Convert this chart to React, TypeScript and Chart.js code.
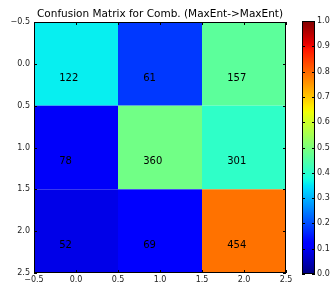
import React, { useEffect, useRef } from "react";
import { Chart, registerables } from "chart.js";

Chart.register(...registerables);

const TITLE = "Confusion Matrix for Comb. (MaxEnt->MaxEnt)";
const classes = [0, 1, 2];
const row0 = [122, 61, 157];
const row1 = [78, 360, 301];
const row2 = [52, 69, 454];
const matrix = [row0, row1, row2];
const axisMin = -0.5;
const axisMax = 2.5;
const axisStep = 0.5;
const cbMin = 0;
const cbMax = 1;
const cbStep = 0.1;

const FONT = "'DejaVu Sans', sans-serif";

const segR = [[0, 0], [0.35, 0], [0.66, 1], [0.89, 1], [1, 0.5]];
const segG = [[0, 0], [0.125, 0], [0.375, 1], [0.64, 1], [0.91, 0], [1, 0]];
const segB = [[0, 0.5], [0.11, 1], [0.34, 1], [0.65, 0], [1, 0]];
function interp(seg: number[][], x: number) {
  if (x <= seg[0][0]) return seg[0][1];
  for (let k = 1; k < seg.length; k++) {
    if (x <= seg[k][0]) {
      const [x0, y0] = seg[k - 1];
      const [x1, y1] = seg[k];
      return y0 + ((x - x0) / (x1 - x0)) * (y1 - y0);
    }
  }
  return seg[seg.length - 1][1];
}
function jet(v: number) {
  const r = Math.round(interp(segR, v) * 255);
  const g = Math.round(interp(segG, v) * 255);
  const b = Math.round(interp(segB, v) * 255);
  return `rgb(${r},${g},${b})`;
}
const fmt = (v: number) => {
  const s = Number(v).toFixed(1);
  return s.startsWith("-") ? "\u2212" + s.slice(1) : s;
};

const heatPlugin = {
  id: "heat",
  beforeDatasetsDraw(chart: any) {
    const { ctx, scales } = chart;
    const x = scales.x;
    const y = scales.y;
    ctx.save();
    matrix.forEach((row, i) => {
      const sum = row.reduce((a, b) => a + b, 0);
      row.forEach((val, j) => {
        const x0 = x.getPixelForValue(classes[j] - 0.5);
        const x1 = x.getPixelForValue(classes[j] + 0.5);
        const y0 = y.getPixelForValue(classes[i] - 0.5);
        const y1 = y.getPixelForValue(classes[i] + 0.5);
        ctx.fillStyle = jet(val / sum);
        ctx.fillRect(Math.min(x0, x1), Math.min(y0, y1), Math.abs(x1 - x0), Math.abs(y1 - y0));
      });
    });
    ctx.fillStyle = "#000";
    ctx.font = `10px ${FONT}`;
    ctx.textAlign = "left";
    ctx.textBaseline = "alphabetic";
    matrix.forEach((row, i) => {
      row.forEach((val, j) => {
        ctx.fillText(String(val), x.getPixelForValue(classes[j] - 0.2), y.getPixelForValue(classes[i] + 0.2));
      });
    });
    ctx.restore();
  },
  afterDraw(chart: any) {
    const { ctx, chartArea: a, scales } = chart;
    ctx.save();
    ctx.strokeStyle = "#000";
    ctx.lineWidth = 1;
    ctx.beginPath();
    scales.x.ticks.forEach((t: any) => {
      const px = Math.round(scales.x.getPixelForValue(t.value)) + 0.5;
      ctx.moveTo(px, a.bottom);
      ctx.lineTo(px, a.bottom - 3);
      ctx.moveTo(px, a.top);
      ctx.lineTo(px, a.top + 3);
    });
    scales.y.ticks.forEach((t: any) => {
      const py = Math.round(scales.y.getPixelForValue(t.value)) + 0.5;
      ctx.moveTo(a.left, py);
      ctx.lineTo(a.left + 3, py);
      ctx.moveTo(a.right, py);
      ctx.lineTo(a.right - 3, py);
    });
    ctx.stroke();
    ctx.strokeRect(Math.round(a.left) + 0.5, Math.round(a.top) + 0.5, Math.round(a.right - a.left) - 1, Math.round(a.bottom - a.top) - 1);
    ctx.fillStyle = "#000";
    ctx.font = `10.5px ${FONT}`;
    ctx.textAlign = "center";
    ctx.textBaseline = "middle";
    ctx.fillText(TITLE, (a.left + a.right) / 2, 14);
    ctx.restore();
  },
};

const cbPlugin = {
  id: "cb",
  beforeDatasetsDraw(chart: any) {
    const { ctx, chartArea: a, scales } = chart;
    const y = scales.y;
    const g = ctx.createLinearGradient(0, y.getPixelForValue(cbMin), 0, y.getPixelForValue(cbMax));
    for (let k = 0; k <= 100; k++) g.addColorStop(k / 100, jet(k / 100));
    ctx.save();
    ctx.fillStyle = g;
    ctx.fillRect(a.left, a.top, a.right - a.left, a.bottom - a.top);
    ctx.restore();
  },
  afterDraw(chart: any) {
    const { ctx, chartArea: a, scales } = chart;
    ctx.save();
    ctx.strokeStyle = "#000";
    ctx.lineWidth = 1;
    ctx.beginPath();
    scales.y.ticks.forEach((t: any) => {
      const py = Math.round(scales.y.getPixelForValue(t.value)) + 0.5;
      ctx.moveTo(a.left, py);
      ctx.lineTo(a.left + 3, py);
      ctx.moveTo(a.right, py);
      ctx.lineTo(a.right - 3, py);
    });
    ctx.stroke();
    ctx.strokeRect(Math.round(a.left) + 0.5, Math.round(a.top) + 0.5, Math.round(a.right - a.left) - 1, Math.round(a.bottom - a.top) - 1);
    ctx.restore();
  },
};

export default function App() {
  const mainRef = useRef<HTMLCanvasElement>(null);
  const cbRef = useRef<HTMLCanvasElement>(null);

  useEffect(() => {
    const tickFont = { family: FONT, size: 8 };
    const main = new Chart(mainRef.current!, {
      type: "scatter",
      data: { datasets: [{ data: [] }] },
      options: {
        animation: false,
        responsive: false,
        devicePixelRatio: 1,
        layout: { padding: { top: 22, right: 14, left: 0, bottom: 0 } },
        plugins: { legend: { display: false }, tooltip: { enabled: false }, title: { display: false } },
        scales: {
          x: {
            type: "linear",
            min: axisMin,
            max: axisMax,
            ticks: { stepSize: axisStep, font: tickFont, color: "#222", padding: 2, maxRotation: 0, callback: (v: any) => fmt(v) },
            grid: { display: false, drawTicks: false },
            border: { display: false },
            afterFit: (s: any) => { s.height = 11; },
          },
          y: {
            type: "linear",
            reverse: true,
            min: axisMin,
            max: axisMax,
            ticks: { stepSize: axisStep, font: tickFont, color: "#222", padding: 4, callback: (v: any) => fmt(v) },
            grid: { display: false, drawTicks: false },
            border: { display: false },
            afterFit: (s: any) => { s.width = 34; },
          },
        },
      },
      plugins: [heatPlugin],
    } as any);

    const cb = new Chart(cbRef.current!, {
      type: "scatter",
      data: { datasets: [{ data: [] }] },
      options: {
        animation: false,
        responsive: false,
        devicePixelRatio: 1,
        layout: { padding: { top: 21, left: 12, right: 0, bottom: 10 } },
        plugins: { legend: { display: false }, tooltip: { enabled: false } },
        scales: {
          x: { type: "linear", display: false, min: 0, max: 1 },
          y: {
            type: "linear",
            position: "right",
            min: cbMin,
            max: cbMax,
            ticks: { stepSize: cbStep, font: tickFont, color: "#222", padding: 2, callback: (v: any) => Number(v).toFixed(1) },
            grid: { display: false, drawTicks: false },
            border: { display: false },
            afterFit: (s: any) => { s.width = 18; },
          },
        },
      },
      plugins: [cbPlugin],
    } as any);

    return () => {
      main.destroy();
      cb.destroy();
    };
  }, []);

  return (
    <div style={{ position: "absolute", left: 0, top: 0, width: 333, height: 284, background: "#fff" }}>
      <canvas ref={mainRef} width={300} height={284} style={{ position: "absolute", left: 0, top: 0, width: 300, height: 284 }} />
      <canvas ref={cbRef} width={43} height={284} style={{ position: "absolute", left: 290, top: 0, width: 43, height: 284 }} />
    </div>
  );
}
